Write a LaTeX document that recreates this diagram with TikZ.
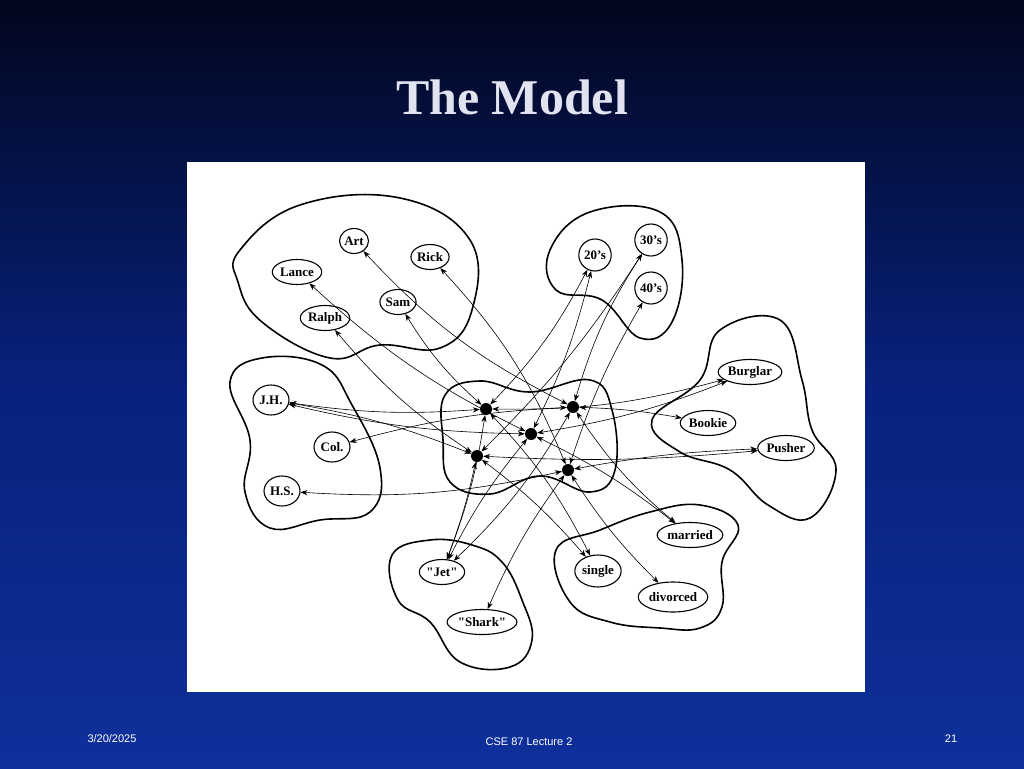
\documentclass[tikz,border=0pt]{standalone}
\usepackage{fontspec}
\usetikzlibrary{shapes.geometric,arrows.meta,shadows}
\newfontfamily\footf{Liberation Sans}
\setmainfont{Liberation Serif}[Ligatures=TeXOff]
\definecolor{bgbot}{RGB}{14,48,155}
\definecolor{bgmid}{RGB}{8,34,125}
\definecolor{bgtop}{RGB}{2,6,30}
\begin{document}
\begin{tikzpicture}[x=1pt,y=-1pt,
  nm/.style={ellipse,draw,line width=1.1pt,inner sep=0.5pt,minimum height=25pt,font=\fontsize{13}{14}\selectfont\bfseries,fill=white},
  dot/.style={circle,fill=black,inner sep=0pt,minimum size=12pt},
  blob/.style={draw,line width=1.6pt},
  ln/.style={{Stealth[length=7pt]}-{Stealth[length=7pt]},line width=0.6pt}]
\shade[top color=bgtop,bottom color=bgbot,middle color=bgmid] (0,0) rectangle (1024,768);
\useasboundingbox (0,0) rectangle (1024,768);
\node[font=\fontsize{50}{54}\selectfont\bfseries,text={rgb,255:red,225;green,228;blue,240}] (title) at (512,97) {The Model};
\fill[white] (187,162) rectangle (865,692);
\node[font=\footf\fontsize{11}{13}\selectfont,text=white] (date) at (112,739) {3/20/2025};
\node[font=\footf\fontsize{11}{13}\selectfont,text=white] (lec) at (529,742) {CSE 87 Lecture 2};
\node[font=\footf\fontsize{11}{13}\selectfont,text=white] (pg) at (951,739) {21};
% blobs
\draw[blob] plot[smooth cycle,tension=0.7] coordinates {(240,250)(300,205)(400,198)(470,240)(472,310)(440,348)(380,345)(330,358)(262,322)(238,282)};
\draw[blob] plot[smooth cycle,tension=0.7] coordinates {(550,250)(590,212)(660,212)(682,260)(672,322)(640,338)(602,300)(556,290)};
\draw[blob] plot[smooth cycle,tension=0.7] coordinates {(230,382)(262,358)(322,365)(352,405)(380,468)(370,512)(320,520)(270,528)(245,492)(250,440)};
\draw[blob] plot[smooth cycle,tension=0.7] coordinates {(652,420)(700,380)(720,330)(780,320)(802,380)(812,430)(836,470)(810,518)(768,505)(730,470)(680,452)};
\draw[blob] plot[smooth cycle,tension=0.7] coordinates {(556,550)(600,530)(650,512)(700,505)(738,525)(722,562)(722,607)(700,628)(660,628)(610,622)(570,602)};
\draw[blob] plot[smooth cycle,tension=0.7] coordinates {(392,555)(430,540)(472,545)(502,562)(522,600)(532,640)(510,667)(460,662)(430,622)(398,600)};
\draw[blob] plot[smooth cycle,tension=0.7] coordinates {(445,395)(480,381)(530,392)(590,380)(612,410)(615,470)(590,492)(540,476)(490,494)(450,482)(443,440)};
% nodes
\node[nm] (art) at (354,241) {Art};
\node[nm] (rick) at (430,257) {Rick};
\node[nm] (lance) at (297,272) {Lance};
\node[nm] (sam) at (398,302) {Sam};
\node[nm] (ralph) at (325,318) {Ralph};
\node[nm,minimum width=32pt,minimum height=32pt] (a20) at (595,255) {20’s};
\node[nm,minimum width=32pt,minimum height=32pt] (a30) at (651,240) {30’s};
\node[nm,minimum width=32pt,minimum height=32pt] (a40) at (651,288) {40’s};
\node[nm,minimum width=36pt,minimum height=30pt] (jh) at (271,400) {J.H.};
\node[nm,minimum width=36pt,minimum height=30pt] (col) at (332,447) {Col.};
\node[nm,minimum width=36pt,minimum height=30pt] (hs) at (282,491) {H.S.};
\node[nm] (burg) at (750,372) {Burglar};
\node[nm] (book) at (708,423) {Bookie};
\node[nm] (push) at (786,448) {Pusher};
\node[nm] (jet) at (442,572) {"Jet"};
\node[nm] (shark) at (482,622) {"Shark"};
\node[nm,minimum height=32pt] (single) at (598,571) {single};
\node[nm] (mar) at (690,535) {married};
\node[nm,minimum height=30pt] (div) at (673,597) {divorced};
\node[dot] (A) at (486,409) {};
\node[dot] (B) at (573,407) {};
\node[dot] (C) at (531,434) {};
\node[dot] (D) at (477,456) {};
\node[dot] (E) at (568,470) {};
% edges
\foreach \d/\n/\b in {A/sam/8,A/a20/-8,A/jh/6,A/burg/-8,A/single/8,A/jet/6,
  B/art/10,B/a30/8,B/col/-6,B/book/4,B/mar/-8,B/jet/8,
  C/lance/8,C/a20/-6,C/jh/6,C/burg/-6,C/mar/6,C/jet/-6,
  D/ralph/8,D/a30/-6,D/jh/-6,D/push/-4,D/single/6,D/jet/4,
  E/rick/-10,E/a40/6,E/hs/8,E/push/4,E/div/-6,E/shark/-6}
  \draw[ln] (\d) to[bend left=\b] (\n);
\end{tikzpicture}
\end{document}
